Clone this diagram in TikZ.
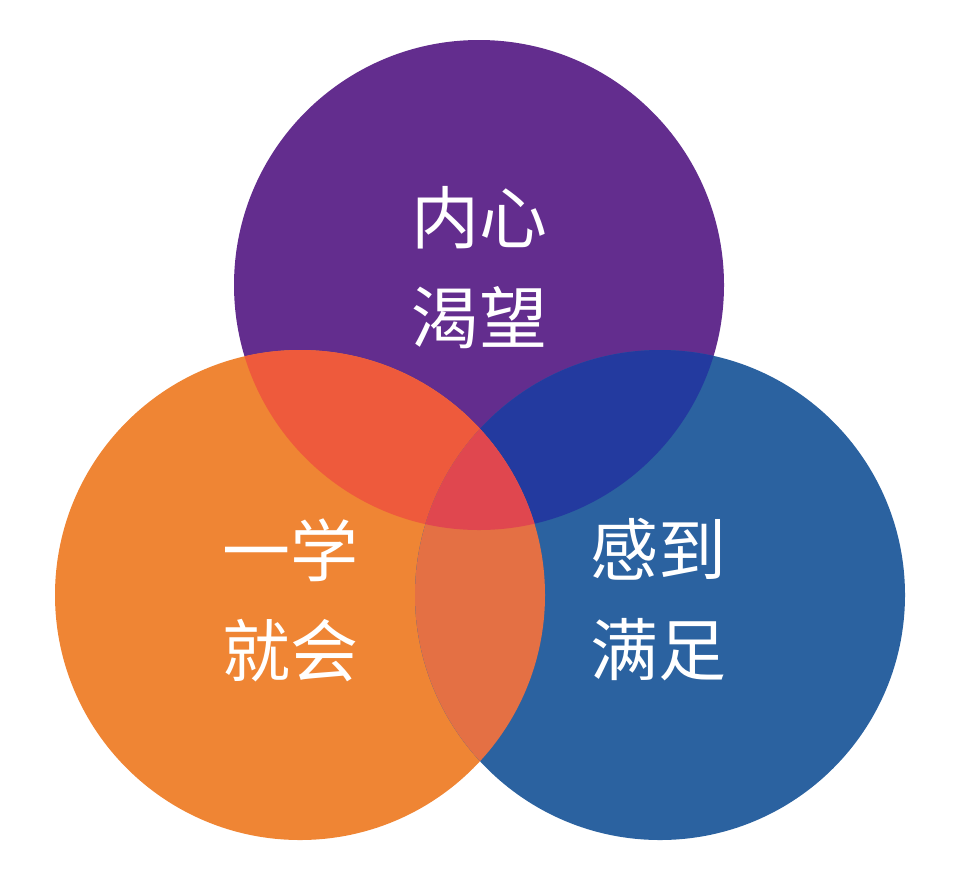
\documentclass[tikz,border=0pt]{standalone}
\usepackage{fontspec}
\newfontfamily\cjk{Noto Sans CJK SC}
\definecolor{cpur}{HTML}{632D8E}
\definecolor{cora}{HTML}{EF8534}
\definecolor{cblu}{HTML}{2B62A0}
\definecolor{cpo}{HTML}{EE5A3C}
\definecolor{cpb}{HTML}{233A9F}
\definecolor{cob}{HTML}{E47044}
\definecolor{call}{HTML}{E0474F}
\tikzset{lab/.style={text=white,align=center,font=\cjk\fontsize{68}{100}\selectfont}}
\begin{document}
\begin{tikzpicture}[x=1pt,y=-1pt]
\useasboundingbox (0,0) rectangle (960,884);
\def\P{(479,285) circle (245)}
\def\O{(300,595) circle (245)}
\def\B{(660,595) circle (245)}
\fill[cpur] \P; \fill[cora] \O; \fill[cblu] \B;
\begin{scope}\clip \P; \fill[cpo] \O; \end{scope}
\begin{scope}\clip \P; \fill[cpb] \B; \end{scope}
\begin{scope}\clip \O; \fill[cob] \B; \end{scope}
\begin{scope}\clip \P; \clip \O; \fill[call] \B; \end{scope}
\node[lab] (t1) at (479,268) {内心\\渴望};
\node[lab] (t2) at (290,600) {一学\\就会};
\node[lab] (t3) at (658,600) {感到\\满足};
\end{tikzpicture}
\end{document}
